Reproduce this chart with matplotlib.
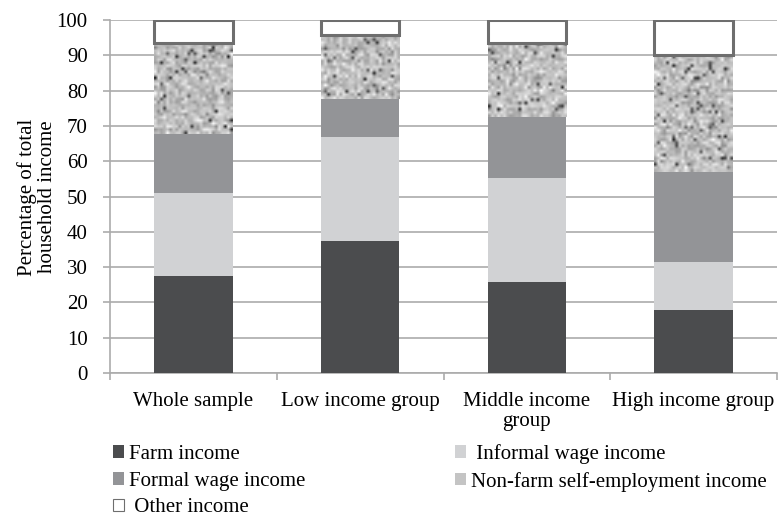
import matplotlib
matplotlib.use("Agg")
import matplotlib.pyplot as plt
import matplotlib.patches as mpatches
import numpy as np

plt.rcParams['font.family'] = ['Liberation Serif', 'DejaVu Serif']
plt.rcParams['hatch.color'] = '#8a8a8a'

groups = ['Whole sample', 'Low income group', 'Middle income\ngroup', 'High income group']
farm = [27.5, 37.5, 25.8, 17.9]
informal = [23.5, 29.3, 29.3, 13.6]
formal = [16.7, 10.9, 17.4, 25.5]
nonfarm = [25.7, 18.0, 21.1, 33.0]
other = [6.6, 4.3, 6.4, 10.0]

c_farm = '#4b4c4e'
c_informal = '#d1d2d4'
c_formal = '#939497'
c_edge = '#6e6e6e'
grid_c = '#ababab'
fs = 15

fig = plt.figure(figsize=(7.78, 5.18), dpi=100)
ax = fig.add_axes([110 / 778, 1 - 373 / 518, 667 / 778, 353 / 518])

x = np.arange(len(groups))
w = 0.47
b1 = np.array(farm)
b2 = b1 + np.array(informal)
b3 = b2 + np.array(formal)
b4 = b3 + np.array(nonfarm)

ax.bar(x, farm, w, color=c_farm, zorder=3)
ax.bar(x, informal, w, bottom=b1, color=c_informal, zorder=3)
ax.bar(x, formal, w, bottom=b2, color=c_formal, zorder=3)
nf_bars = ax.bar(x, nonfarm, w, bottom=b3, color='#bdbdbd', zorder=3)
ax.bar(x, other, w, bottom=b4, color='white', edgecolor=c_edge, linewidth=2.2, zorder=4)

# speckled texture for the non-farm segments
rng = np.random.default_rng(7)
for rect in nf_bars:
    x0, y0 = rect.get_x(), rect.get_y()
    bw, bh = rect.get_width(), rect.get_height()
    ny = max(int(bh * 3.51 / 3), 2)
    tex = rng.normal(0.75, 0.09, size=(ny, 26))
    specks = rng.random(size=tex.shape) < 0.05
    tex[specks] = rng.uniform(0.1, 0.4, size=specks.sum())
    tex = np.clip(tex, 0, 1)
    im = ax.imshow(tex, cmap='gray', vmin=0, vmax=1, extent=(x0, x0 + bw, y0, y0 + bh),
                   aspect='auto', interpolation='bilinear', zorder=3.5)
    im.set_clip_path(rect)

ax.set_xlim(-0.5, len(groups) - 0.5)
ax.set_ylim(0, 100)
ax.set_yticks(np.arange(0, 101, 10))
ax.yaxis.grid(True, color=grid_c, linewidth=1.2, zorder=0)
ax.set_axisbelow(True)

ax.set_xticks(x)
ax.set_xticklabels(groups, fontsize=fs, linespacing=1.05)
ax.set_xticks(np.arange(-0.5, len(groups), 1), minor=True)
ax.tick_params(axis='x', which='major', length=0, pad=14)
ax.tick_params(axis='x', which='minor', length=5, color=grid_c, width=1.2)
ax.tick_params(axis='y', length=5, color=grid_c, width=1.2, labelsize=fs, pad=11)

for s in ['top', 'right']:
    ax.spines[s].set_visible(False)
for s in ['left', 'bottom']:
    ax.spines[s].set_color(grid_c)
    ax.spines[s].set_linewidth(1.2)

fig.text(37 / 778, 1 - 197 / 518, 'Percentage of total\nhousehold income', rotation=90,
         ha='center', va='center', fontsize=fs, linespacing=1.05)

handles = [
    mpatches.Patch(facecolor=c_farm, label='Farm income'),
    mpatches.Patch(facecolor=c_formal, label='Formal wage income'),
    mpatches.Patch(facecolor='white', edgecolor=c_edge, linewidth=0.8, label=' Other income'),
    mpatches.Patch(facecolor=c_informal, label=' Informal wage income'),
    mpatches.Patch(facecolor='#c4c4c4', edgecolor='none', hatch='....', label='Non-farm self-employment income'),
]
fig.legend(handles=handles, ncol=2, loc='upper left', bbox_to_anchor=(113 / 778, 1 - 444 / 518),
           frameon=False, fontsize=fs, handlelength=0.55, handleheight=0.55, handletextpad=0.2,
           labelspacing=0.37, columnspacing=7.2, borderaxespad=0, borderpad=0)

fig.savefig('out.png', dpi=100)
